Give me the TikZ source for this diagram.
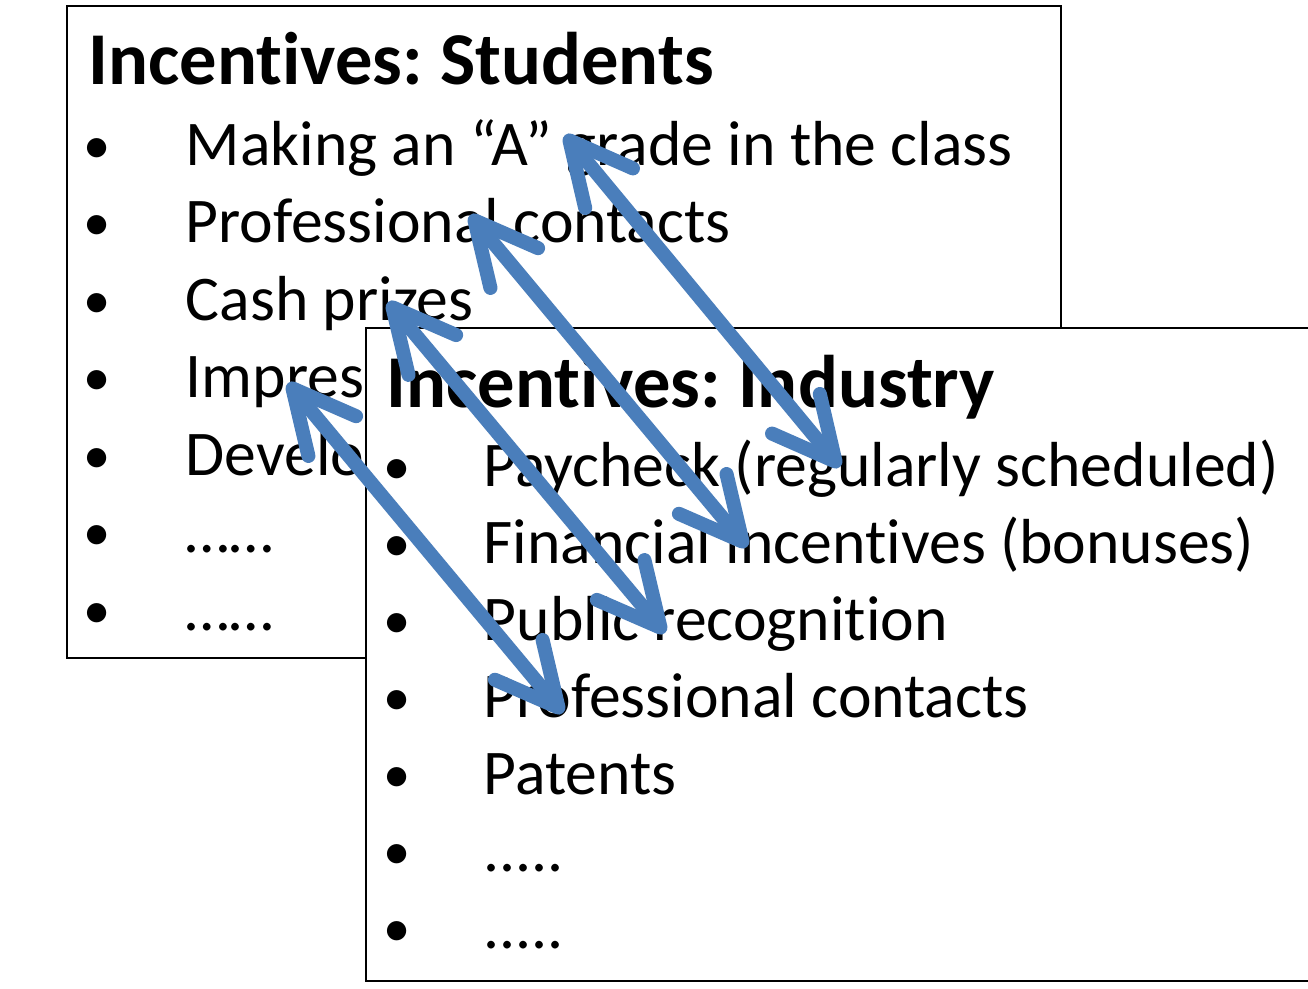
\documentclass[tikz,border=0pt]{standalone}
\usepackage{fontspec}
\setmainfont{Carlito}[Ligatures=NoCommon]
\frenchspacing
\usetikzlibrary{arrows.meta}
\definecolor{ink}{HTML}{000000}
\definecolor{linkblue}{HTML}{4A7EBB}
\newcommand\moredots{.....}
\tikzset{
  panel/.style={draw=ink, line width=0.6pt, fill=white},
  heading/.style={anchor=base west, inner sep=0pt, font=\fontsize{21.2}{25}\selectfont\bfseries},
  item/.style={anchor=base west, inner sep=0pt, font=\fontsize{18.1}{22}\selectfont},
  dot/.style={anchor=base, inner sep=0pt, font=\fontsize{15.5}{18}\selectfont},
  barb/.tip={Straight Barb[length=6.2mm, width=6.2mm, round]},
  link/.style={barb-barb, line width=4pt, draw=linkblue, line cap=round}
}

\begin{document}
\begin{tikzpicture}[x=0.01cm, y=-0.01cm]
  \useasboundingbox (0,0) rectangle (1308,989);

  % students card
  \draw[panel] (67,6) rectangle (1061,658);
  \node[heading] (stuTitle) at (88,85) {Incentives: Students};
  \foreach \txt [count=\i] in {Making an “A” grade in the class, Professional contacts, Cash prizes, Impres, Develo, ……, ……} {
    \node[dot] (stuDot\i) at (97,86+77.5*\i) {•};
    \node[item] (stu\i) at (185,88+77.5*\i) {\txt};
  }

  % industry card, lies on top of the first one
  \draw[panel] (366,328) rectangle (1330,981);
  \node[heading] (indTitle) at (386,408) {Incentives: Industry};
  \foreach \txt [count=\i] in {Paycheck (regularly scheduled), Financial incentives (bonuses), Public recognition, Professional contacts, Patents, \moredots, \moredots} {
    \node[dot] (indDot\i) at (397,408+77*\i) {•};
    \node[item] (ind\i) at (483,410+77*\i) {\txt};
  }

  % arrow ends
  \coordinate (gradeEnd) at (565,135);
  \coordinate (payEnd) at (840,467);
  \coordinate (contactEnd) at (470,215);
  \coordinate (bonusEnd) at (747,547);
  \coordinate (cashEnd) at (388,302);
  \coordinate (publicEnd) at (665,633);
  \coordinate (impressEnd) at (288,383);
  \coordinate (proEnd) at (563,713);

  \draw[link] (gradeEnd) -- (payEnd);
  \draw[link] (contactEnd) -- (bonusEnd);
  \draw[link] (cashEnd) -- (publicEnd);
  \draw[link] (impressEnd) -- (proEnd);
\end{tikzpicture}
\end{document}
